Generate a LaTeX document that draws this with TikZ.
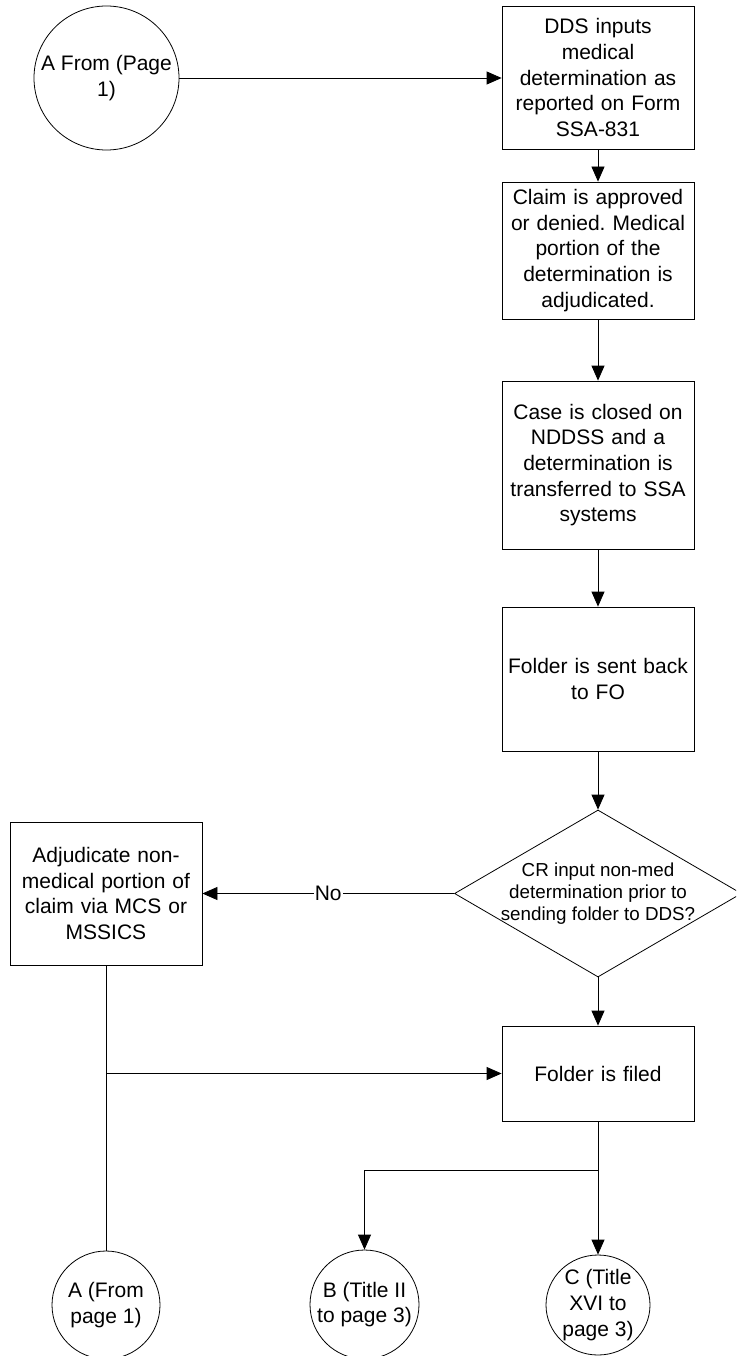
\documentclass[tikz,border=0pt]{standalone}
\usepackage{fontspec}
\setmainfont{Liberation Sans}
\usetikzlibrary{arrows.meta,shapes.geometric}
\frenchspacing
\begin{document}
\begin{tikzpicture}[x=1pt,y=-1pt,
  line width=0.8pt,
  font=\fontsize{21}{25.6}\selectfont,
  proc/.style={draw, rectangle, minimum width=192pt, inner sep=0pt, align=center, text width=180pt},
  conn/.style={draw, ellipse, inner sep=0pt},
  arr/.style={-{Triangle[length=15pt,width=13pt]}}]
\clip (0,0) rectangle (736,1356);
\fill[white] (0,0) rectangle (736,1356);

% nodes
\node[conn, minimum width=145pt, minimum height=144pt,
  label={[align=center]center:A From (Page\\1)}] (cA) at (106.5,78) {};
\node[proc, minimum height=143pt] (b1) at (598,77.5)
  {DDS inputs\\medical\\determination as\\reported on Form\\SSA-831};
\node[proc, minimum height=137pt] (b2) at (598,250.5)
  {Claim is approved\\or denied. Medical\\portion of the\\determination is\\adjudicated.};
\node[proc, minimum height=168pt] (b3) at (598,465)
  {Case is closed on\\NDDSS and a\\determination is\\transferred to SSA\\systems};
\node[proc, minimum height=144pt] (b4) at (598,679)
  {Folder is sent back\\to FO};
\node[draw, diamond, minimum width=287pt, minimum height=167pt, inner sep=0pt] (dec) at (598,893.5) {};
\node[align=center, font=\fontsize{18.8}{21.7}\selectfont] (dect) at (dec.center)
  {CR input non-med\\determination prior to\\sending folder to DDS?};
\node[proc, minimum height=143pt] (adj) at (106,893.5)
  {Adjudicate non-\\medical portion of\\claim via MCS or\\MSSICS};
\node[proc, minimum height=95pt] (filed) at (598,1073.5) {Folder is filed};
\node[conn, minimum width=108pt, minimum height=108pt,
  label={[align=center]center:A (From\\page 1)}] (cA2) at (106,1305) {};
\node[conn, minimum width=109pt, minimum height=109pt,
  label={[align=center]center:B (Title II\\to page 3)}] (cB) at (364.5,1304.5) {};
\node[conn, minimum width=104pt, minimum height=100pt,
  label={[align=center]center:C (Title\\XVI to\\page 3)}] (cC) at (598,1305) {};

\coordinate (j) at (adj.south |- filed.west);
\coordinate (br) at (598,1170);

% connectors
\draw[arr] (cA.east) -- (b1.west |- cA.east);
\draw[arr] (b1) -- (b2);
\draw[arr] (b2) -- (b3);
\draw[arr] (b3) -- (b4);
\draw[arr] (b4) -- (dec);
\draw[arr] (dec.west) -- node[fill=white, inner sep=1pt] (no) {No} (adj.east);
\draw[arr] (dec.south) -- (filed.north);
\draw (adj.south) -- (cA2.north);
\draw[arr] (j) -- (filed.west);
\draw (filed.south) -- (br);
\draw[arr] (br) -- (cC.north);
\draw[arr] (br) -| (cB.north);
\end{tikzpicture}
\end{document}
